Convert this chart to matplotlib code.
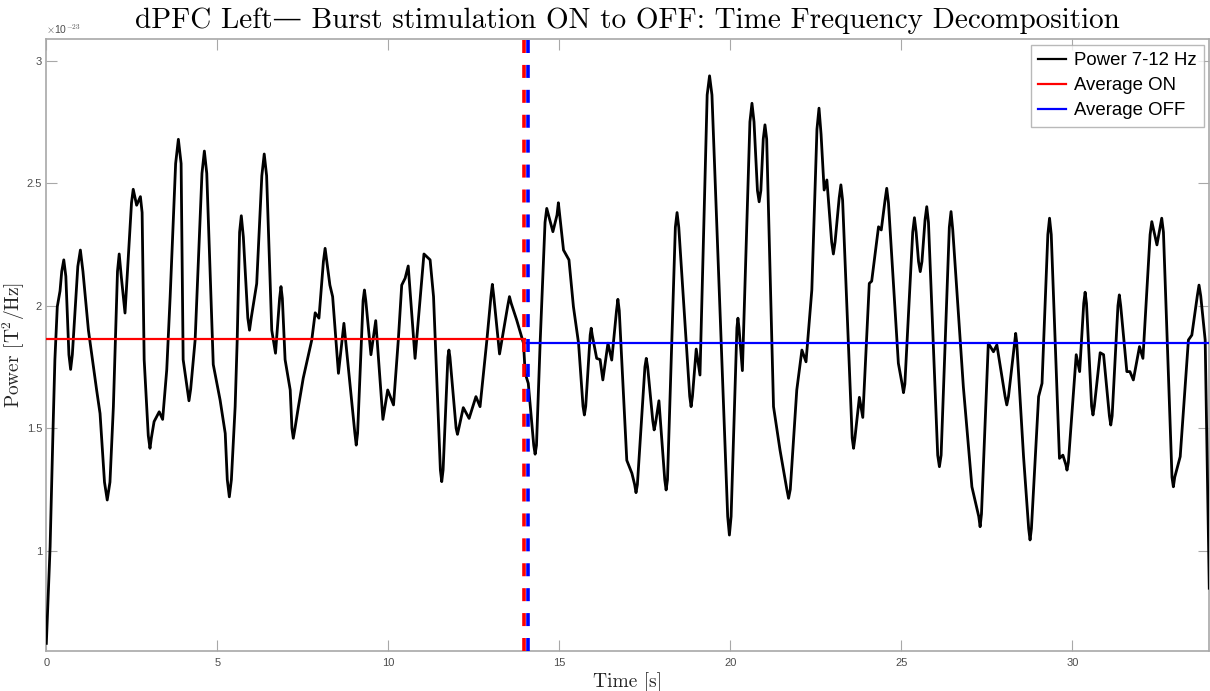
import matplotlib
matplotlib.use("Agg")
import matplotlib.pyplot as plt
from matplotlib.ticker import FuncFormatter, FixedLocator

plt.rcParams['mathtext.fontset'] = 'cm'
plt.rcParams['axes.unicode_minus'] = False

# ---- data (power in units of 1e-23 T^2/Hz) ----
time_s = [0.00, 0.11, 0.20, 0.25, 0.32, 0.40, 0.45, 0.51, 0.57, 0.66, 0.71, 0.76, 0.92, 0.995, 1.07,
          1.23, 1.47, 1.57, 1.70, 1.78, 1.86, 1.96, 2.08, 2.13, 2.19, 2.30, 2.49, 2.54, 2.64, 2.75,
          2.80, 2.86, 2.98, 3.03, 3.07, 3.15, 3.30, 3.40,
          3.52, 3.62, 3.78, 3.86, 3.94, 4.00, 4.12, 4.17, 4.22, 4.35, 4.55, 4.62, 4.69, 4.88, 5.08,
          5.23, 5.29, 5.35, 5.41, 5.52, 5.58, 5.65, 5.70, 5.76, 5.89, 5.94, 5.99, 6.15, 6.30, 6.37,
          6.44, 6.59, 6.70, 6.82, 6.86, 6.90, 6.98,
          7.13, 7.18, 7.22, 7.27, 7.37, 7.51, 7.76, 7.86, 7.97, 8.10, 8.15, 8.20, 8.29, 8.37, 8.54,
          8.70, 9.02, 9.06, 9.10, 9.26, 9.30, 9.34, 9.49, 9.63, 9.84, 9.98, 10.15, 10.29, 10.39, 10.49,
          10.58, 10.78, 11.04, 11.22, 11.32, 11.52, 11.56, 11.60, 11.74, 11.77, 11.80, 11.98, 12.02,
          12.06, 12.19, 12.36, 12.56, 12.68, 12.88, 13.00, 13.04, 13.08, 13.25, 13.49, 13.54, 13.59,
          13.75, 13.95, 14.00, 14.09, 14.25, 14.29, 14.33, 14.44,
          14.58, 14.63, 14.81, 14.93, 14.97, 15.12, 15.28, 15.41, 15.56, 15.69, 15.73, 15.77, 15.90,
          15.93, 15.96, 16.09, 16.19, 16.27, 16.42, 16.53, 16.67, 16.71, 16.75, 16.97, 17.12, 17.20,
          17.24, 17.28, 17.50, 17.54, 17.58, 17.73, 17.77, 17.81, 17.91, 18.08, 18.12, 18.16, 18.39,
          18.44, 18.49,
          18.81, 18.85, 18.89, 19.00, 19.11, 19.32, 19.39, 19.46, 19.92, 19.97, 20.02, 20.19, 20.22,
          20.25, 20.35, 20.57, 20.63, 20.69, 20.79, 20.84, 20.89, 20.96, 21.01, 21.06, 21.26, 21.45,
          21.65, 21.70, 21.75, 21.94, 22.09, 22.21, 22.38,
          22.53, 22.59, 22.65, 22.74, 22.82, 22.96, 23.01, 23.06, 23.18, 23.23, 23.28, 23.56, 23.60,
          23.64, 23.77, 23.87, 24.06, 24.13, 24.33, 24.41, 24.52, 24.57, 24.62, 24.91, 25.02, 25.06,
          25.10, 25.33, 25.38, 25.43, 25.50, 25.55, 25.60, 25.69, 25.74, 25.79, 26.06, 26.11, 26.16,
          26.40, 26.45, 26.50,
          26.81, 27.06, 27.26, 27.30, 27.34, 27.54, 27.69, 27.79, 28.03, 28.08, 28.13, 28.31, 28.34,
          28.37, 28.57, 28.72, 28.76, 28.80, 29.01, 29.11, 29.28, 29.33, 29.38, 29.62, 29.72, 29.81,
          29.84, 29.88, 30.11, 30.21, 30.33, 30.37, 30.41, 30.56, 30.60, 30.64, 30.81, 30.91, 31.08,
          31.12, 31.16, 31.33, 31.37, 31.41, 31.59, 31.68, 31.78, 31.96, 32.06, 32.27, 32.32, 32.47,
          32.61, 32.66, 32.91, 32.95, 32.99, 33.15, 33.39, 33.49, 33.65, 33.70, 33.75, 33.88, 34.00]
power = [0.622, 1.016, 1.52, 1.78, 1.996, 2.06, 2.14, 2.187, 2.12, 1.80, 1.74, 1.80, 2.16, 2.227, 2.14,
         1.90, 1.656, 1.56, 1.28, 1.207, 1.28, 1.588, 2.14, 2.211, 2.12, 1.97, 2.42, 2.475, 2.41, 2.445,
         2.38, 1.78, 1.47, 1.418, 1.46, 1.527, 1.567, 1.536,
         1.738, 2.037, 2.58, 2.679, 2.58, 1.78, 1.66, 1.612, 1.66, 1.86, 2.54, 2.631, 2.54, 1.76, 1.615,
         1.479, 1.29, 1.22, 1.29, 1.588, 1.86, 2.30, 2.367, 2.28, 1.95, 1.90, 1.95, 2.09, 2.53, 2.619,
         2.53, 1.90, 1.806, 2.03, 2.078, 2.03, 1.78,
         1.656, 1.50, 1.459, 1.50, 1.588, 1.704, 1.86, 1.971, 1.949, 2.18, 2.234, 2.18, 2.084, 2.037, 1.724,
         1.928, 1.48, 1.431, 1.48, 2.02, 2.064, 2.02, 1.80, 1.939, 1.536, 1.656, 1.595, 1.86, 2.084, 2.112,
         2.162, 1.785, 2.211, 2.187, 2.037, 1.33, 1.282, 1.33, 1.79, 1.819, 1.79, 1.50, 1.475,
         1.50, 1.584, 1.54, 1.629, 1.588, 1.86, 2.04, 2.087, 2.04, 1.803, 2.00, 2.037, 2.01,
         1.942, 1.847, 1.724, 1.683, 1.43, 1.394, 1.43, 1.86,
         2.34, 2.397, 2.302, 2.37, 2.42, 2.227, 2.187, 1.996, 1.847, 1.59, 1.554, 1.59, 1.88,
         1.908, 1.88, 1.785, 1.78, 1.697, 1.847, 1.778, 1.98, 2.026, 1.98, 1.369, 1.316, 1.27,
         1.237, 1.27, 1.75, 1.785, 1.75, 1.53, 1.493, 1.52, 1.612, 1.29, 1.248, 1.29, 2.32,
         2.38, 2.32,
         1.63, 1.588, 1.63, 1.823, 1.717, 2.86, 2.938, 2.86, 1.14, 1.064, 1.14, 1.91, 1.949,
         1.91, 1.735, 2.75, 2.826, 2.75, 2.47, 2.424, 2.47, 2.68, 2.738, 2.68, 1.588, 1.411,
         1.25, 1.214, 1.25, 1.656, 1.819, 1.771, 2.064,
         2.72, 2.806, 2.70, 2.472, 2.513, 2.26, 2.211, 2.26, 2.44, 2.493, 2.43, 1.46, 1.418,
         1.46, 1.626, 1.544, 2.091, 2.10, 2.322, 2.309, 2.43, 2.479, 2.42, 1.765, 1.68, 1.645,
         1.68, 2.30, 2.359, 2.30, 2.18, 2.139, 2.18, 2.35, 2.404, 2.34, 1.39, 1.343, 1.39,
         2.32, 2.384, 2.31,
         1.669, 1.261, 1.14, 1.098, 1.15, 1.847, 1.812, 1.84, 1.63, 1.595, 1.63, 1.85, 1.887,
         1.85, 1.384, 1.09, 1.044, 1.09, 1.629, 1.683, 2.29, 2.357, 2.29, 1.377, 1.39, 1.35,
         1.329, 1.36, 1.80, 1.731, 2.01, 2.055, 2.01, 1.59, 1.554, 1.59, 1.808, 1.80, 1.55,
         1.513, 1.55, 2.00, 2.044, 2.00, 1.731, 1.731, 1.697, 1.833, 1.785, 2.29, 2.343, 2.248,
         2.357, 2.30, 1.30, 1.261, 1.30, 1.384, 1.86, 1.88, 2.04, 2.084, 2.04, 1.86, 0.847]
SCALE = 1e-23
switch_time = 14.0
avg_on = 1.864
avg_off = 1.849
x_ticks = [0, 5, 10, 15, 20, 25, 30]
y_ticks = [1, 1.5, 2, 2.5, 3]
x_range = (0, 34)
y_range = (0.592, 3.087)

n = min(len(time_s), len(power))

fig = plt.figure(figsize=(12.10, 6.91), dpi=100)
ax = fig.add_axes([0.0383, 0.0583, 0.9611, 0.8848])

axis_gray = '#a8a8a8'
tick_gray = '#4d4d4d'
label_col = '#262626'

ax.plot(time_s[:n], [p * SCALE for p in power[:n]], color='black', lw=2.0,
        solid_joinstyle='round', label='Power 7-12 Hz', zorder=3)
ax.plot([x_range[0], switch_time], [avg_on * SCALE] * 2, color='red', lw=1.6,
        label='Average ON', zorder=4)
ax.plot([switch_time, x_range[1]], [avg_off * SCALE] * 2, color='blue', lw=1.6,
        label='Average OFF', zorder=4)
ax.axvline(switch_time - 0.04, color='red', lw=2.6, ls=(0, (3.6, 3.3)), zorder=5)
ax.axvline(switch_time + 0.07, color='blue', lw=2.6, ls=(0, (3.6, 3.3)), zorder=5)

ax.set_xlim(*x_range)
ax.set_ylim(y_range[0] * SCALE, y_range[1] * SCALE)
ax.xaxis.set_major_locator(FixedLocator(x_ticks))
ax.yaxis.set_major_locator(FixedLocator([t * SCALE for t in y_ticks]))
ax.xaxis.set_major_formatter(FuncFormatter(lambda v, p: f'{v:g}'))
ax.yaxis.set_major_formatter(FuncFormatter(lambda v, p: f'{v / SCALE:g}'))

ax.tick_params(direction='in', length=8, width=0.8, color=axis_gray,
               labelcolor=tick_gray, labelsize=8, top=True, right=True)
ax.tick_params(axis='x', pad=5)
ax.tick_params(axis='y', pad=3)
for lab in ax.get_xticklabels() + ax.get_yticklabels():
    lab.set_fontfamily('Liberation Sans')
for s in ax.spines.values():
    s.set_color(axis_gray)
    s.set_linewidth(1.2)

ax.text(0.0, 1.006, r'$\times$10$^{-23}$', transform=ax.transAxes, fontsize=7.5,
        color=tick_gray, family='Liberation Sans', ha='left', va='bottom')

serif = ['cmr10', 'DejaVu Serif']
ax.set_title('dPFC Left\u2014 Burst stimulation ON to OFF: Time Frequency Decomposition',
             fontsize=21, family=serif, color='black', pad=8)
ax.set_xlabel('Time [s]', fontsize=14, family=serif, color=label_col, labelpad=3)
ax.set_ylabel(r'Power [T$^2$/Hz]', fontsize=14, family=serif, color=label_col)
ax.yaxis.set_label_coords(-0.0165, 0.5)

leg = ax.legend(loc='upper right', frameon=True, fancybox=False,
                handlelength=1.5, handletextpad=0.4, borderpad=0.4, labelspacing=0.42,
                borderaxespad=0.3, prop={'family': 'Liberation Sans', 'size': 13.4})
leg.get_frame().set_edgecolor(axis_gray)
leg.get_frame().set_linewidth(1.0)
for line in leg.get_lines():
    line.set_linewidth(1.6)

fig.savefig('out.png', dpi=100)
